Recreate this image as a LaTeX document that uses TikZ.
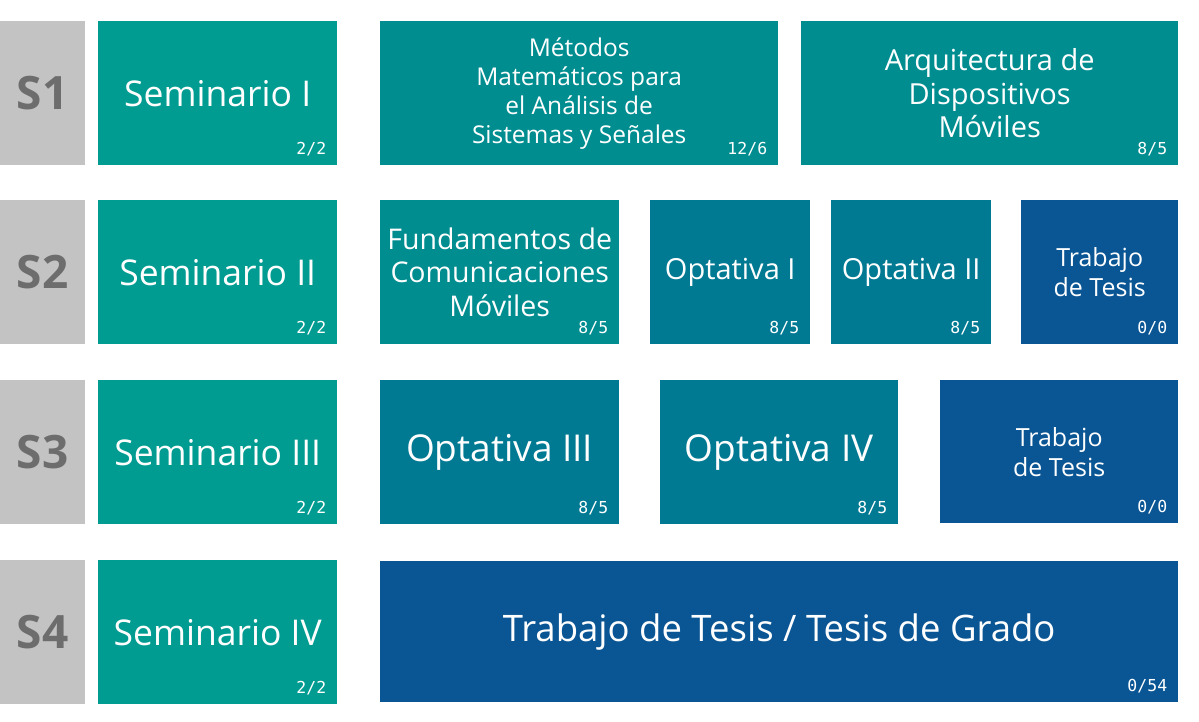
\documentclass[tikz,border=0pt]{standalone}
\usepackage{fontspec}
\setmainfont{Open Sans}
\setmonofont{DejaVu Sans Mono}
\usepackage{xcolor}
\definecolor{SemGray}{HTML}{C3C3C3}
\definecolor{SemText}{HTML}{6D6D6D}
\definecolor{SemTeal}{HTML}{009C91}
\definecolor{CoreTeal}{HTML}{008D90}
\definecolor{OptTeal}{HTML}{007A93}
\definecolor{TesisBlue}{HTML}{0A5594}
\usetikzlibrary{calc}
\usetikzlibrary{positioning}

\begin{document}
\begin{tikzpicture}[x=1pt, y=-1pt,
    box/.style={shape=rectangle,
      anchor=north west,
      inner sep=0pt,
      minimum height=144pt,
      align=center,
      text=white},
    semester/.style={box,
      fill=SemGray,
      text=SemText,
      minimum width=85pt,
      font=\fontsize{46}{52}\selectfont\bfseries},
    seminar/.style={box,
      fill=SemTeal,
      minimum width=239pt,
      font=\fontsize{35.5}{40}\selectfont},
    core/.style={box, fill=CoreTeal},
    optional/.style={box, fill=OptTeal},
    thesis/.style={box, fill=TesisBlue},
    credit/.style={anchor=base east,
      inner sep=0pt,
      text=white,
      font=\fontsize{16.5}{18}\ttfamily}]

    % semestres
    \node[name=s1, semester] at (0,21) {S1};
    \node[name=s2, semester] at (0,200) {S2};
    \node[name=s3, semester] at (0,380) {S3};
    \node[name=s4, semester] at (0,560) {S4};

    % seminarios
    \node[name=sem1, seminar] at (98,21) {Seminario I};
    \node[name=sem2, seminar] at (98,200) {Seminario II};
    \node[name=sem3, seminar] at (98,380) {Seminario III};
    \node[name=sem4, seminar] at (98,560) {Seminario IV};

    % S1
    \node[name=metodos,
      core,
      minimum width=398pt,
      font=\fontsize{24.5}{29}\selectfont] at (380,21)
      {Métodos\\Matemáticos para\\el Análisis de\\Sistemas y Señales};

    \node[name=arquitectura,
      core,
      minimum width=377pt,
      font=\fontsize{29}{33.5}\selectfont] at (801,21)
      {Arquitectura de\\Dispositivos\\Móviles};

    % S2
    \node[name=fundamentos,
      core,
      minimum width=239pt,
      font=\fontsize{28.5}{33.5}\selectfont] at (380,200)
      {Fundamentos de\\Comunicaciones\\Móviles};

    \node[name=opt1,
      optional,
      minimum width=160pt,
      font=\fontsize{29}{34}\selectfont] at (650,200) {Optativa I};

    \node[name=opt2,
      optional,
      minimum width=160pt,
      font=\fontsize{29}{34}\selectfont] at (831,200) {Optativa II};

    \node[name=tesis2,
      thesis,
      minimum width=157pt,
      font=\fontsize{25}{30}\selectfont] at (1021,200) {Trabajo\\de Tesis};

    % S3
    \node[name=opt3,
      optional,
      minimum width=239pt,
      font=\fontsize{37}{42}\selectfont] at (380,380) {Optativa III};

    \node[name=opt4,
      optional,
      minimum width=238pt,
      font=\fontsize{37}{42}\selectfont] at (660,380) {Optativa IV};

    \node[name=tesis3,
      thesis,
      minimum width=238pt,
      minimum height=143pt,
      font=\fontsize{25}{30}\selectfont] at (940,380) {Trabajo\\de Tesis};

    % S4
    \node[name=tesis4,
      thesis,
      minimum width=798pt,
      minimum height=141pt,
      font=\fontsize{36.5}{42}\selectfont] at (380,561)
      {Trabajo de Tesis / Tesis de Grado};

    % creditos
    \node[name=cr1, credit] at ($(sem1.south east)+(-11,-11)$) {2/2};
    \node[name=cr2, credit] at ($(sem2.south east)+(-11,-11)$) {2/2};
    \node[name=cr3, credit] at ($(sem3.south east)+(-11,-11)$) {2/2};
    \node[name=cr4, credit] at ($(sem4.south east)+(-11,-11)$) {2/2};
    \node[name=crmet, credit] at ($(metodos.south east)+(-11,-11)$) {12/6};
    \node[name=crarq, credit] at ($(arquitectura.south east)+(-11,-11)$) {8/5};
    \node[name=crfun, credit] at ($(fundamentos.south east)+(-11,-11)$) {8/5};
    \node[name=cro1, credit] at ($(opt1.south east)+(-11,-11)$) {8/5};
    \node[name=cro2, credit] at ($(opt2.south east)+(-11,-11)$) {8/5};
    \node[name=crt2, credit] at ($(tesis2.south east)+(-11,-11)$) {0/0};
    \node[name=cro3, credit] at ($(opt3.south east)+(-11,-11)$) {8/5};
    \node[name=cro4, credit] at ($(opt4.south east)+(-11,-11)$) {8/5};
    \node[name=crt3, credit] at ($(tesis3.south east)+(-11,-11)$) {0/0};
    \node[name=crt4, credit] at ($(tesis4.south east)+(-11,-11)$) {0/54};

    \path [use as bounding box] (0,0) rectangle (1199,721);
  \end{tikzpicture}
\end{document}
